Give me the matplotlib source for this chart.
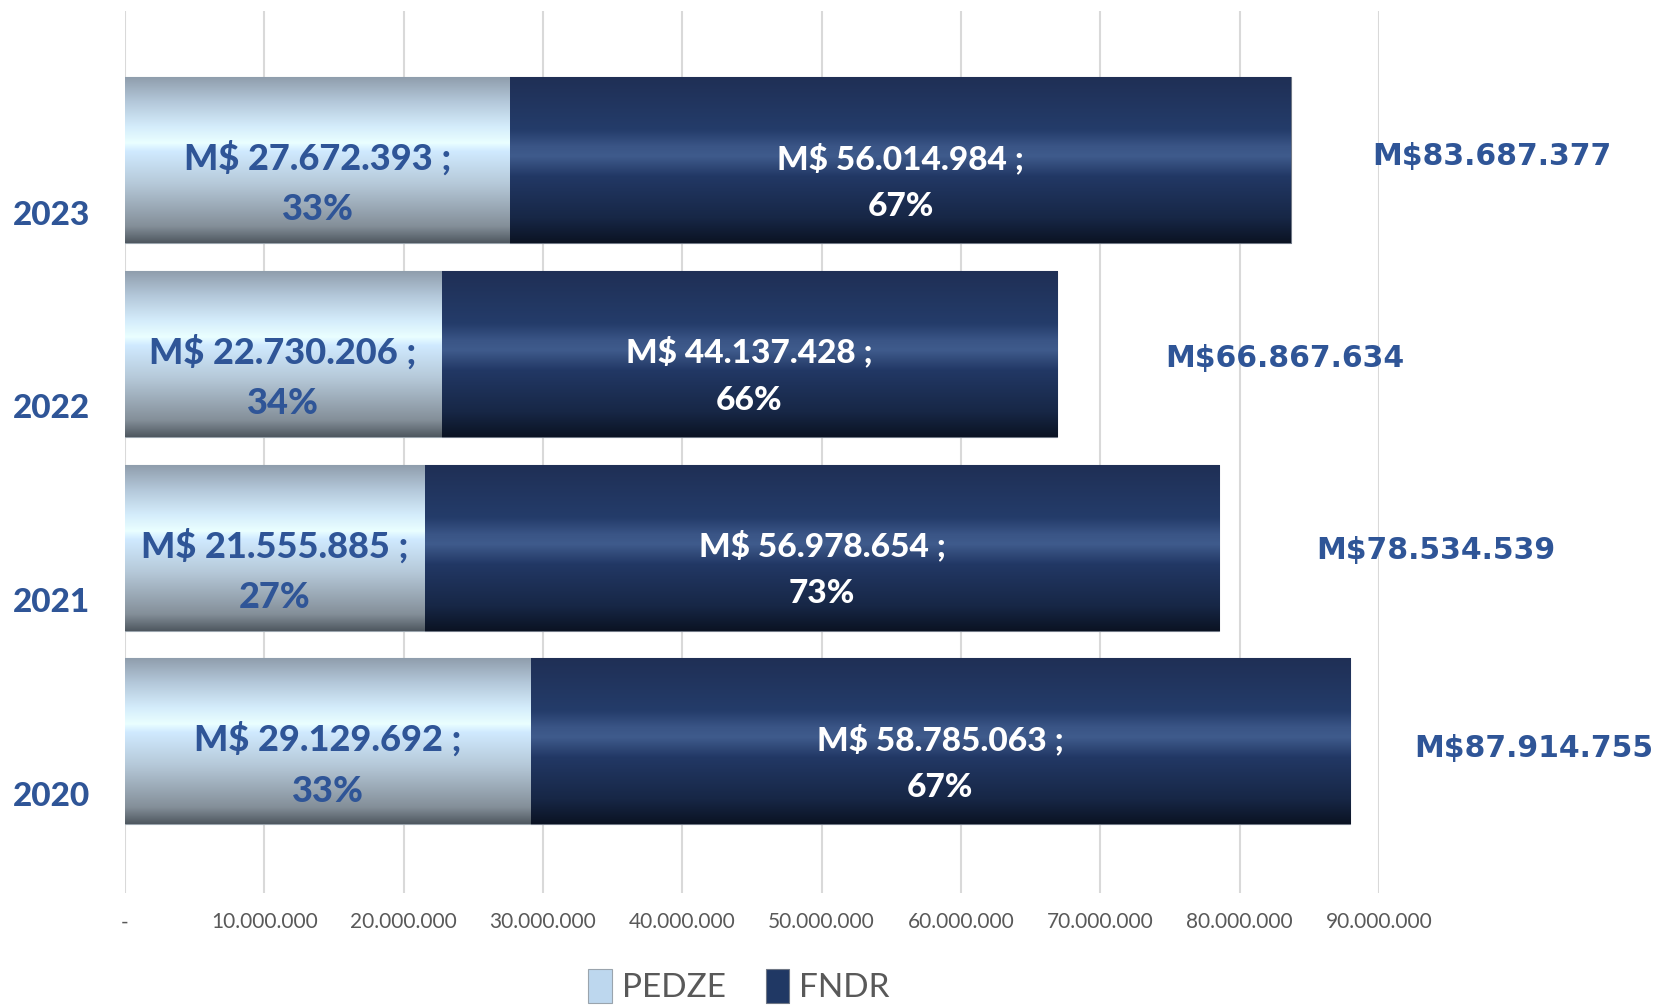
import numpy as np
import matplotlib.pyplot as plt
from matplotlib.colors import LinearSegmentedColormap

years = ['2020', '2021', '2022', '2023']
pedze = [29129692, 21555885, 22730206, 27672393]
fndr = [58785063, 56978654, 44137428, 56014984]
pedze_pct = ['33%', '27%', '34%', '33%']
fndr_pct = ['67%', '73%', '66%', '67%']
totals = [87914755, 78534539, 66867634, 83687377]
x_ticks = [0, 10000000, 20000000, 30000000, 40000000, 50000000,
           60000000, 70000000, 80000000, 90000000]

# where Excel dropped the total labels (offset from bar end, in units)
total_dx = [13.2e6, 15.5e6, 16.4e6, 14.4e6]
total_dy = [-0.035, -0.014, -0.022, 0.02]

BLUE = '#2F5597'
GRAY = '#595959'

light_cmap = LinearSegmentedColormap.from_list('light', [
    (0.0, '#4f5860'), (0.1, '#848f99'), (0.35, '#b5c8d8'), (0.55, '#d0eaff'),
    (0.6, '#eaffff'), (0.7, '#d4ecfb'), (0.85, '#b3c7d9'), (1.0, '#8e9cab')])
dark_cmap = LinearSegmentedColormap.from_list('dark', [
    (0.0, '#0b1323'), (0.15, '#172746'), (0.4, '#223865'), (0.52, '#3f5b8c'),
    (0.58, '#3a5586'), (0.68, '#243c6a'), (1.0, '#1f2f55')])


def fmt(v):
    return '{:,}'.format(v).replace(',', '.')


def fill_gradient(ax, bars, cmap):
    grad = np.linspace(0, 1, 256).reshape(-1, 1)
    for bar in bars:
        x0, y0 = bar.get_x(), bar.get_y()
        w, h = bar.get_width(), bar.get_height()
        im = ax.imshow(grad, cmap=cmap, aspect='auto', origin='lower',
                       extent=(x0, x0 + w, y0, y0 + h), zorder=2.1,
                       interpolation='bilinear')
        im.set_clip_path(bar)


fig = plt.figure(figsize=(16.57, 10.06), dpi=100)
ax = fig.add_axes([0.0753, 0.1123, 0.757, 0.8772])

y = np.arange(len(years))
h = 0.857
b1 = ax.barh(y, pedze, height=h, color='#BDD7EE', edgecolor='#9aa4ad',
             linewidth=0.8, label='PEDZE', zorder=2)
b2 = ax.barh(y, fndr, left=pedze, height=h, color='#203864',
             edgecolor='#6f7785', linewidth=0.8, label='FNDR', zorder=2)
fill_gradient(ax, b1, light_cmap)
fill_gradient(ax, b2, dark_cmap)

for i in range(len(years)):
    ax.text(pedze[i] / 2, y[i] - 0.12, 'M$ %s ;\n%s' % (fmt(pedze[i]), pedze_pct[i]),
            ha='center', va='center', color=BLUE, fontsize=26,
            fontweight='black', family='Lato', linespacing=1.65, zorder=5)
    ax.text(pedze[i] + fndr[i] / 2, y[i] - 0.11, 'M$ %s ;\n%s' % (fmt(fndr[i]), fndr_pct[i]),
            ha='center', va='center', color='white', fontsize=24,
            fontweight='black', family='Lato', linespacing=1.75, zorder=5)
    ax.text(totals[i] + total_dx[i], y[i] + total_dy[i], 'M$' + fmt(totals[i]),
            ha='center', va='center', color=BLUE, fontsize=21.5,
            fontweight='bold', family='DejaVu Sans', clip_on=False)
    ax.text(-0.0278, y[i] - 0.284, years[i], transform=ax.get_yaxis_transform(),
            ha='right', va='center', color=BLUE, fontsize=24,
            fontweight='black', family='Lato')

ax.set_xlim(0, 90000000)
ax.set_ylim(-0.783, 3.772)
ax.set_xticks(x_ticks)
ax.set_xticklabels(['-'] + [fmt(t) for t in x_ticks[1:]], color=GRAY,
                   fontsize=15, family='Lato')
ax.tick_params(axis='x', length=0, pad=14)
ax.set_yticks([])
ax.grid(axis='x', color='#D9D9D9', linewidth=1.5, zorder=0)
ax.set_axisbelow(True)
for s in ax.spines.values():
    s.set_visible(False)

fig.legend(handles=[b1, b2], loc='center', bbox_to_anchor=(0.446, 0.02),
           ncol=2, frameon=False, prop={'family': 'Lato', 'size': 24},
           labelcolor=GRAY, handlelength=0.7, handleheight=1.2,
           handletextpad=0.3, columnspacing=1.2)

fig.savefig('out.png', dpi=100)
